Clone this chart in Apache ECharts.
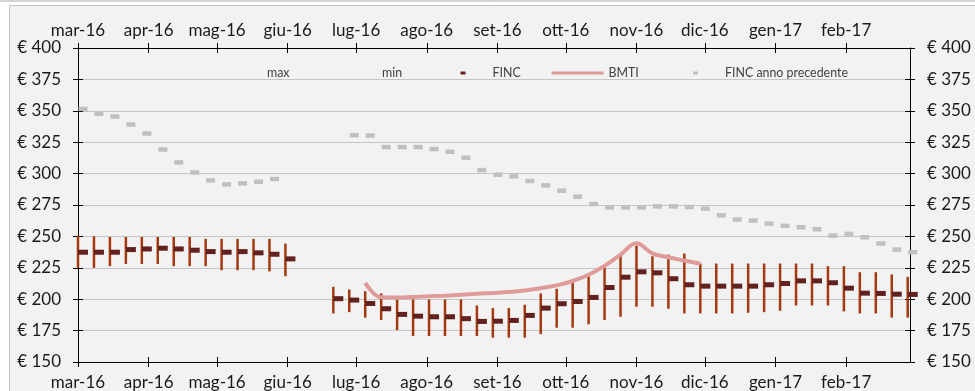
<!DOCTYPE html>
<html>
<head>
<meta charset="utf-8">
<script src="https://cdn.jsdelivr.net/npm/echarts@6/dist/echarts.min.js"></script>
<style>
  html, body { margin: 0; padding: 0; background: #ffffff; }
  #main { width: 975px; height: 391px; }
</style>
</head>
<body>
<div id="main"></div>
<script>
// settimane (una rilevazione a settimana)
const weeks = [
  '2016-03-01', '2016-03-08', '2016-03-15', '2016-03-22', '2016-03-29',
  '2016-04-05', '2016-04-12', '2016-04-19', '2016-04-26',
  '2016-05-03', '2016-05-10', '2016-05-17', '2016-05-24', '2016-05-31',
  '2016-06-07', '2016-06-14', '2016-06-21', '2016-06-28',
  '2016-07-05', '2016-07-12', '2016-07-19', '2016-07-26',
  '2016-08-02', '2016-08-09', '2016-08-16', '2016-08-23', '2016-08-30',
  '2016-09-06', '2016-09-13', '2016-09-20', '2016-09-27',
  '2016-10-04', '2016-10-11', '2016-10-18', '2016-10-25',
  '2016-11-01', '2016-11-08', '2016-11-15', '2016-11-22', '2016-11-29',
  '2016-12-06', '2016-12-13', '2016-12-20', '2016-12-27',
  '2017-01-03', '2017-01-10', '2017-01-17', '2017-01-24', '2017-01-31',
  '2017-02-07', '2017-02-14', '2017-02-21', '2017-02-28'
]

const maxValues = [
  250.6, 250.1, 249.6, 249.6, 249.6, 249.6, 249.6, 249.6, 248, 248, 248, 248, 248, 244.3,
  null, null,
  209.9, 207.8, 206.4, 204.6, 199.8, 199.8, 199.8, 199.8, 199.8, 195, 192.9, 192.9, 195.6,
  204.6, 208.3, 213.1, 218.3, 226.8, 235.5, 242.7, 234.2, 235.5, 236.4, 228.4, 228.4, 228.4,
  228.4, 228.4, 228.4, 228.4, 228.4, 226.3, 226.3, 221.5, 221.5, 219.7, 217.8
]

const minValues = [
  225, 225, 226.3, 228.1, 228.1, 228.1, 226.3, 226.3, 226.3, 223.1, 223.1, 223.1, 222.1, 218.3,
  null, null,
  188.7, 189.7, 185.3, 183.4, 175.4, 170.7, 170.7, 170.7, 170.7, 170.7, 169.4, 169.4, 169.4,
  172.2, 177.3, 177.3, 180, 183.4, 186, 194, 194, 192.4, 188.7, 188.7, 188.7, 188.7,
  189.2, 189.7, 190.8, 195, 195, 195, 190.3, 188.7, 188.7, 185.3, 185.3
]

const fincValues = [
  237.4, 237.4, 237.4, 239.5, 240, 240.6, 240, 239, 237.9, 237.4, 237.9, 236.9, 235.8, 232.1,
  null, null,
  200.4, 199.3, 196.6, 192.4, 187.9, 186.5, 186, 186, 184.5, 182.3, 182.5, 183.1, 187.1,
  192.9, 196.4, 198.2, 201.4, 209.3, 217.5, 221.8, 221, 216.3, 211.5, 210.4, 210.4, 210.4,
  210.4, 211.5, 212.5, 214.6, 214.6, 213.1, 208.8, 204.8, 204.6, 204, 203.8
]

const bmtiValues = [
  null, null, null, null, null, null, null, null, null, null, null, null, null, null,
  null, null, null, null,
  213, 201.5, 201.3, 201.8, 202.3, 202.8, 203.5, 204.3, 205, 205.8, 207, 208.8, 211, 214.5,
  219.5, 226.5, 235.5, 244.5, 236.5, 233.4, 230.8, 228.2,
  null, null, null, null, null, null, null, null, null, null, null, null, null
]

const prevYearValues = [
  351.5, 347.6, 345.4, 339.1, 331.9, 319.2, 308.9, 300.9, 294.6, 291.4, 292.2, 293.5, 295.7,
  null, null, null, null,
  330.6, 330.3, 321.1, 321.1, 321.1, 319.5, 317.4, 312.6, 302.8, 299.1, 297.8, 294.1, 290.6,
  286.4, 281.6, 275.8, 273.1, 273.1, 273.1, 273.9, 273.9, 273.4, 272.1, 266.8, 263.4, 262.6,
  260.2, 258.4, 257.3, 255.7, 250.6, 252, 249.3, 244.3, 239.5, 237.4
]

const monthStarts = [
  '2016-03-01', '2016-04-01', '2016-05-01', '2016-06-01', '2016-07-01', '2016-08-01',
  '2016-09-01', '2016-10-01', '2016-11-01', '2016-12-01', '2017-01-01', '2017-02-01'
]
const monthLabels = [
  'mar-16', 'apr-16', 'mag-16', 'giu-16', 'lug-16', 'ago-16',
  'set-16', 'ott-16', 'nov-16', 'dic-16', 'gen-17', 'feb-17'
]
const priceTicks = [150, 175, 200, 225, 250, 275, 300, 325, 350, 375, 400]

const FONT = 'Lato'
const toTime = s => +echarts.time.parse(s)
const monthTimes = monthStarts.map(toTime)
const xMin = toTime('2016-03-01')
const xMax = toTime('2017-03-01')

function pairs (values) {
  const out = []
  values.forEach((v, i) => {
    if (v !== null) out.push([toTime(weeks[i]), v])
  })
  return out
}

const hiLow = []
weeks.forEach((w, i) => {
  if (maxValues[i] !== null) hiLow.push([toTime(w), maxValues[i], minValues[i], fincValues[i]])
})

// linea verticale: 'max' va dalla chiusura al massimo, 'min' dal minimo alla chiusura
function stick (from, to) {
  return function (params, api) {
    const a = api.coord([api.value(0), api.value(from)])
    const b = api.coord([api.value(0), api.value(to)])
    return {
      type: 'line',
      shape: { x1: a[0], y1: a[1], x2: b[0], y2: b[1] },
      style: { stroke: '#a5390e', lineWidth: 2.5 }
    }
  }
}

function xAxisDef (position, showLabel, inside) {
  return {
    type: 'value',
    position: position,
    min: xMin,
    max: xMax,
    axisLine: { show: showLabel, lineStyle: { color: '#000', width: 1 } },
    axisTick: { show: true, inside: inside, length: 5, customValues: monthTimes, lineStyle: { color: '#000' } },
    axisLabel: {
      show: showLabel,
      customValues: monthTimes,
      margin: position === 'top' ? 9 : 12,
      color: '#1a1a1a',
      fontFamily: FONT,
      fontSize: 17,
      formatter: v => monthLabels[monthTimes.indexOf(v)] || ''
    },
    splitLine: { show: false }
  }
}

function yAxisDef (position, showLabel, inside, grid) {
  return {
    type: 'value',
    position: position,
    min: 150,
    max: 400,
    interval: 25,
    axisLine: { show: showLabel, lineStyle: { color: '#000', width: 1 } },
    axisTick: { show: true, inside: inside, length: 5, lineStyle: { color: '#000' } },
    axisLabel: {
      show: showLabel,
      margin: 17,
      color: '#1a1a1a',
      fontFamily: FONT,
      fontSize: 17,
      formatter: v => priceTicks.indexOf(v) >= 0 ? '€ ' + v : ''
    },
    splitLine: { show: grid, lineStyle: { color: '#c6c6c6', width: 1 } }
  }
}

const legendText = { color: '#404040', fontFamily: FONT, fontSize: 12.4, padding: [0, 0, 0, 22] }

function legendAt (name, left, opts) {
  return Object.assign({
    data: [name],
    left: left,
    top: 67,
    padding: 0,
    itemWidth: 5,
    itemHeight: 3,
    selectedMode: false,
    textStyle: legendText
  }, opts || {})
}

const hidden = { itemStyle: { color: 'rgba(0,0,0,0)', borderWidth: 0 } }

const option = {
  backgroundColor: '#ffffff',
  animation: false,
  graphic: [
    { type: 'rect', left: 0, top: 0, shape: { width: 975, height: 2 }, style: { fill: '#d4d4d4' }, z: -10 },
    { type: 'rect', left: 9, top: 5, shape: { width: 980, height: 400 }, style: { fill: '#f2f2f2', stroke: '#c4c4c4', lineWidth: 1 }, z: -10 }
  ],
  grid: { left: 78, right: 65, top: 48, bottom: 28 },
  legend: [
    legendAt({ name: 'max', icon: 'rect', ...hidden }, 235),
    legendAt({ name: 'min', icon: 'rect', ...hidden }, 350),
    legendAt('FINC', 460.5),
    legendAt({ name: 'BMTI', icon: 'rect' }, 551.5, {
      itemWidth: 52,
      itemHeight: 3,
      textStyle: Object.assign({}, legendText, { padding: 0 })
    }),
    legendAt('FINC anno precedente', 693)
  ],
  xAxis: [
    xAxisDef('bottom', true, false),
    xAxisDef('top', true, false),
    xAxisDef('bottom', false, true),
    xAxisDef('top', false, true)
  ],
  yAxis: [
    yAxisDef('left', true, false, true),
    yAxisDef('right', true, false, false),
    yAxisDef('left', false, true, false),
    yAxisDef('right', false, true, false)
  ],
  series: [
    {
      name: 'max',
      type: 'custom',
      data: hiLow,
      encode: { x: 0, y: [1, 3] },
      renderItem: stick(3, 1),
      itemStyle: { color: '#a5390e' },
      z: 2
    },
    {
      name: 'min',
      type: 'custom',
      data: hiLow,
      encode: { x: 0, y: [2, 3] },
      renderItem: stick(2, 3),
      itemStyle: { color: '#a5390e' },
      z: 2
    },
    {
      name: 'FINC',
      type: 'scatter',
      data: pairs(fincValues),
      symbol: 'rect',
      symbolSize: [10, 5],
      symbolOffset: [5, 0],
      itemStyle: { color: '#62201f', opacity: 1 },
      z: 4
    },
    {
      name: 'BMTI',
      type: 'line',
      data: pairs(bmtiValues),
      smooth: 0.4,
      symbol: 'none',
      lineStyle: { color: '#df9b99', width: 4 },
      itemStyle: { color: '#df9b99' },
      z: 3
    },
    {
      name: 'FINC anno precedente',
      type: 'scatter',
      data: pairs(prevYearValues),
      symbol: 'rect',
      symbolSize: [9, 4.5],
      symbolOffset: [5, 0],
      clip: false,
      itemStyle: { color: '#c0c0c0', opacity: 1 },
      z: 3
    }
  ]
}

const chart = echarts.init(document.getElementById('main'))
chart.setOption(option)
</script>
</body>
</html>
